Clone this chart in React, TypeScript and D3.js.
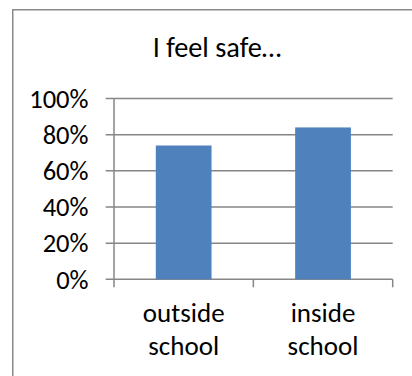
import React from "react";
import * as d3 from "d3";

// Share of respondents who feel safe, by location
const categories = ["outside school", "inside school"];
const categoryLines = [["outside", "school"], ["inside", "school"]];
const values = [0.74, 0.84];
const yTicks = [0, 0.2, 0.4, 0.6, 0.8, 1.0];
const title = "I feel safe…";

const W = 412;
const H = 376;
const FONT = "Carlito, Calibri, Lato, 'Open Sans', sans-serif";
const GRID = "#868686";
const BAR = "#4F81BD";

export default function App() {
  const left = 114;
  const right = 392.7;
  const top = 98.5;
  const bottom = 279.3;

  const y = d3.scaleLinear().domain([0, 1]).range([bottom, top]);
  const x = d3.scaleBand<string>().domain(categories).range([left, right]).padding(0);
  const barW = x.bandwidth() * 0.4;
  const fmt = d3.format(".0%");

  const catEdges = [...categories.map((c) => x(c)!), right];

  return (
    <svg
      width={W}
      height={H}
      style={{ position: "absolute", left: 0, top: 0, display: "block", background: "#fff" }}
      fontFamily={FONT}
    >
      {/* chart area border, running past the right and bottom edges */}
      <rect x={12.75} y={9.75} width={W + 20} height={H + 20} fill="none" stroke="#8a8a8a" strokeWidth={1.5} />

      <text x={217} y={57} textAnchor="middle" fontSize={28.3} fill="#000">
        {title}
      </text>

      {/* horizontal gridlines with left tick marks */}
      {yTicks.map((t) => (
        <g key={t}>
          <line x1={left - 8.3} x2={right} y1={y(t)} y2={y(t)} stroke={GRID} strokeWidth={1.5} />
          <text
            x={88.5}
            y={y(t)}
            dy="0.35em"
            textAnchor="end"
            fontSize={26.5}
            fill="#000"
          >
            {fmt(t)}
          </text>
        </g>
      ))}

      {/* value axis line */}
      <line x1={left} x2={left} y1={top} y2={bottom} stroke={GRID} strokeWidth={1.5} />

      {/* category tick marks */}
      {catEdges.map((cx, i) => (
        <line key={i} x1={cx} x2={cx} y1={bottom} y2={bottom + 8} stroke={GRID} strokeWidth={1.5} />
      ))}

      {/* bars */}
      {categories.map((c, i) => {
        const cx = x(c)! + x.bandwidth() / 2;
        return (
          <rect
            key={c}
            x={cx - barW / 2}
            y={y(values[i])}
            width={barW}
            height={bottom - y(values[i])}
            fill={BAR}
          />
        );
      })}

      {/* category labels */}
      {categories.map((c, i) => {
        const cx = x(c)! + x.bandwidth() / 2;
        return (
          <text key={c} x={cx} textAnchor="middle" fontSize={27} fill="#000">
            {categoryLines[i].map((ln, j) => (
              <tspan key={j} x={cx} y={322 + j * 32.5}>
                {ln}
              </tspan>
            ))}
          </text>
        );
      })}
    </svg>
  );
}
